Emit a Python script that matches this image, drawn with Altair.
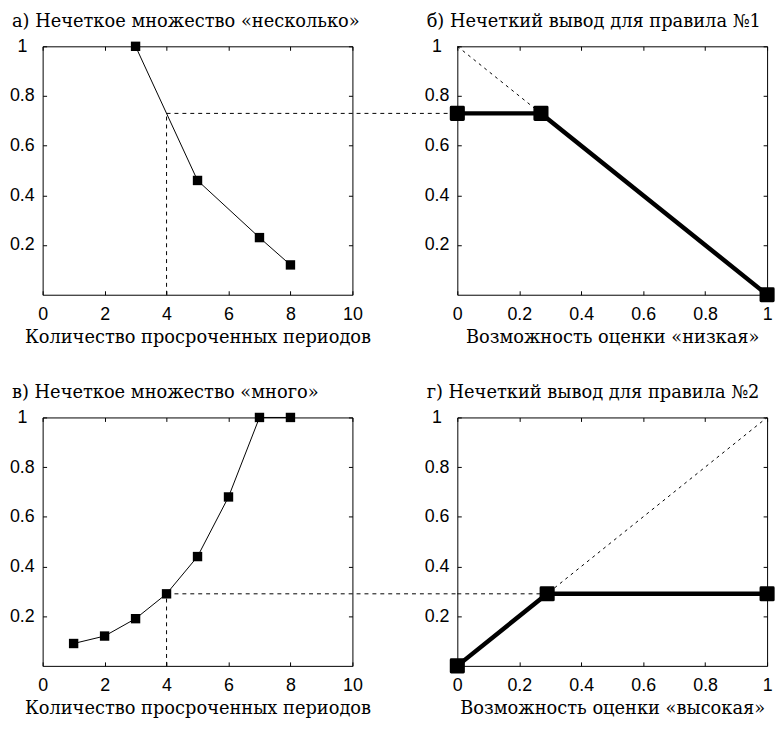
import altair as alt
import pandas as pd

# ---------------- data ----------------
count_ticks = [0, 2, 4, 6, 8, 10]
poss_ticks = [0, 0.2, 0.4, 0.6, 0.8, 1]
y_ticks = [0.2, 0.4, 0.6, 0.8, 1]

# а) fuzzy set "несколько"
a_x = [3, 5, 7, 8]
a_y = [1.0, 0.46, 0.23, 0.12]
# в) fuzzy set "много"
c_x = [1, 2, 3, 4, 5, 6, 7, 8]
c_y = [0.09, 0.12, 0.19, 0.29, 0.44, 0.68, 1.0, 1.0]

cut_x = 4          # 4 overdue periods
cut_a = 0.73       # membership in "несколько"
cut_c = 0.29       # membership in "много"

# б) inference for rule 1
b_x = [0, 0.27, 1]
b_y = [0.73, 0.73, 0]
b_diag_x = [0, 0.27]
b_diag_y = [1, 0.73]
# г) inference for rule 2
d_x = [0, 0.29, 1]
d_y = [0, 0.29, 0.29]
d_diag_x = [0, 1]
d_diag_y = [0, 1]

titles = ["а) Нечеткое множество «несколько»", "б) Нечеткий вывод для правила №1",
          "в) Нечеткое множество «много»", "г) Нечеткий вывод для правила №2"]
x_titles = ["Количество просроченных периодов", "Возможность оценки «низкая»",
            "Количество просроченных периодов", "Возможность оценки «высокая»"]

# ---------------- layout / style ----------------
W, H = 313, 251
HSP, VSP = 106, 124
SERIF = "DejaVu Serif"
SANS = "Liberation Sans"
TICK = 4


def ptitle(text, size):
    return alt.TitleParams(text, fontSize=size, font=SERIF, fontWeight="normal", color="black",
                           anchor="start", frame="group", dx=-31, offset=7)


def axes_layers(df, xdom, xticks, xtitle, xfmt):
    bottom = alt.Axis(orient="bottom", values=xticks, format=xfmt, offset=-TICK, tickSize=TICK,
                      domain=False, grid=False, tickColor="black", labelColor="black",
                      labelFont=SANS, labelFontSize=18, labelPadding=11, labelFlush=False,
                      labelOverlap=False,
                      title=xtitle, titleFont=SERIF, titleFontSize=18, titleFontWeight="normal",
                      titleColor="black", titlePadding=5)
    left = alt.Axis(orient="left", values=y_ticks, format="~g", offset=-TICK, tickSize=TICK,
                    domain=False, grid=False, tickColor="black", labelColor="black",
                    labelFont=SANS, labelFontSize=18, labelAlign="center", labelPadding=21,
                    labelFlush=False, labelOverlap=False, title=None)
    top = alt.Axis(orient="top", values=xticks, labels=False, offset=-TICK, tickSize=TICK,
                   domain=False, grid=False, tickColor="black", title=None)
    right = alt.Axis(orient="right", values=y_ticks, labels=False, offset=-TICK, tickSize=TICK,
                     domain=False, grid=False, tickColor="black", title=None)
    xs = alt.Scale(domain=xdom, nice=False, zero=False)
    ys = alt.Scale(domain=[0, 1], nice=False)
    l1 = alt.Chart(df).mark_point(opacity=0).encode(
        x=alt.X("x:Q", scale=xs, axis=bottom), y=alt.Y("y:Q", scale=ys, axis=left))
    l2 = alt.Chart(df).mark_point(opacity=0).encode(
        x=alt.X("x:Q", scale=xs, axis=top), y=alt.Y("y:Q", scale=ys, axis=right))
    return [l1, l2]


def enc(c):
    return c.encode(x=alt.X("x:Q", axis=None), y=alt.Y("y:Q", axis=None))


def membership_panel(xs, ys, cut, title, tsize, xtitle):
    df = pd.DataFrame({"x": xs, "y": ys})
    line = enc(alt.Chart(df).mark_line(color="black", strokeWidth=1))
    pts = enc(alt.Chart(df).mark_square(color="black", size=90, opacity=1))
    vdf = pd.DataFrame({"x": [cut_x], "y": [0], "y2": [cut]})
    vrule = alt.Chart(vdf).mark_rule(color="black", strokeWidth=1, strokeDash=[4, 4]).encode(
        x=alt.X("x:Q", axis=None), y=alt.Y("y:Q", axis=None), y2="y2:Q")
    hdf = pd.DataFrame({"x": [cut_x], "y": [cut]})
    hrule = alt.Chart(hdf).mark_rule(color="black", strokeWidth=1, strokeDash=[4, 4]).encode(
        x=alt.X("x:Q", axis=None), x2=alt.value(W + HSP), y=alt.Y("y:Q", axis=None))
    layers = axes_layers(df, [0, 10], count_ticks, xtitle, "d") + [vrule, hrule, line, pts]
    return alt.layer(*layers).resolve_axis(x="independent", y="independent").properties(
        width=W, height=H, title=ptitle(title, tsize))


def inference_panel(xs, ys, dx, dy, cut_seg, title, tsize, xtitle):
    df = pd.DataFrame({"x": xs, "y": ys})
    ddf = pd.DataFrame({"x": dx, "y": dy})
    diag = enc(alt.Chart(ddf).mark_line(color="black", strokeWidth=1, strokeDash=[3, 4]))
    layers = axes_layers(df, [0, 1], poss_ticks, xtitle, "~g") + [diag]
    if cut_seg is not None:
        sdf = pd.DataFrame({"x": [0], "x2": [cut_seg[0]], "y": [cut_seg[1]]})
        seg = alt.Chart(sdf).mark_rule(color="black", strokeWidth=1, strokeDash=[4, 4]).encode(
            x=alt.X("x:Q", axis=None), x2="x2:Q", y=alt.Y("y:Q", axis=None))
        layers.append(seg)
    thick = enc(alt.Chart(df).mark_line(color="black", strokeWidth=4.5, strokeJoin="round"))
    pts = enc(alt.Chart(df).mark_square(color="black", size=150, opacity=1, stroke="black",
                                        strokeWidth=3, strokeJoin="round"))
    layers += [thick, pts]
    return alt.layer(*layers).resolve_axis(x="independent", y="independent").properties(
        width=W, height=H, title=ptitle(title, tsize))


pa = membership_panel(a_x, a_y, cut_a, titles[0], 18, x_titles[0])
pb = inference_panel(b_x, b_y, b_diag_x, b_diag_y, None, titles[1], 18, x_titles[1])
pc = membership_panel(c_x, c_y, cut_c, titles[2], 18, x_titles[2])
pd_ = inference_panel(d_x, d_y, d_diag_x, d_diag_y, (d_x[1], d_y[1]), titles[3], 18, x_titles[3])

chart = alt.concat(pa, pb, pc, pd_, columns=2, spacing={"row": VSP, "column": HSP},
                   bounds="flush").configure_view(
    stroke="black", strokeWidth=1
).properties(
    padding={"left": 0, "top": 0, "right": 0, "bottom": 0}, background="white"
)

chart.save("out.html", embed_options={"renderer": "svg", "actions": False})
